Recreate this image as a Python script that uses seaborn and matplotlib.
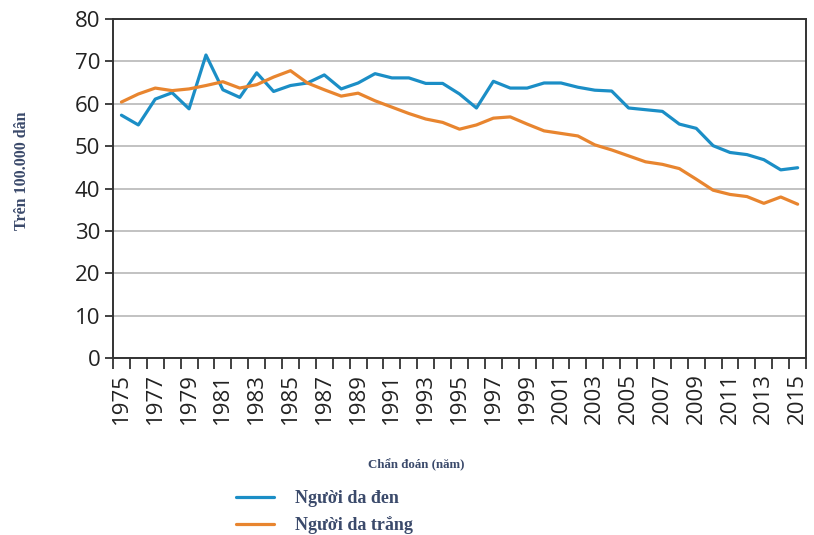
import matplotlib
matplotlib.use("Agg")
import matplotlib.pyplot as plt
import seaborn as sns
import numpy as np
import pandas as pd

years = list(range(1975, 2016))
black = [57.3, 55.0, 61.1, 62.6, 58.8, 71.5, 63.3, 61.5, 67.3, 62.9,
         64.3, 64.9, 66.8, 63.5, 64.9, 67.1, 66.1, 66.1, 64.8, 64.8,
         62.3, 59.0, 65.3, 63.7, 63.7, 64.9, 64.9, 63.9, 63.2, 63.0,
         59.0, 58.6, 58.2, 55.2, 54.2, 50.1, 48.5, 48.0, 46.8, 44.4, 44.9]
white = [60.4, 62.3, 63.7, 63.1, 63.5, 64.3, 65.2, 63.7, 64.5, 66.3,
         67.8, 64.9, 63.3, 61.8, 62.5, 60.7, 59.2, 57.7, 56.4, 55.6,
         54.0, 55.0, 56.6, 56.9, 55.2, 53.6, 53.0, 52.4, 50.3, 49.1,
         47.7, 46.3, 45.7, 44.7, 42.2, 39.6, 38.6, 38.1, 36.5, 38.0, 36.3]
series_names = ["Người da đen", "Người da trắng"]
colors = ["#1b8ec6", "#e8852f"]

df = pd.DataFrame({
    "year": years * 2,
    "value": black + white,
    "group": [series_names[0]] * len(years) + [series_names[1]] * len(years),
})

sns.set_theme(style="white")
plt.rcParams["font.family"] = ["Open Sans", "DejaVu Sans"]

fig = plt.figure(figsize=(8.14, 5.35), dpi=100)
ax = fig.add_axes([0.1388, 0.3308, 0.8515, 0.6337])

sns.lineplot(data=df, x="year", y="value", hue="group", palette=colors,
             linewidth=2.3, ax=ax, legend=False)

ax.set_xlim(1974.5, 2015.5)
ax.set_ylim(0, 80)
ax.set_yticks(np.arange(0, 81, 10))
ax.yaxis.grid(True, color="#bdbdbd", linewidth=1.3)
ax.set_axisbelow(True)

# boundaries get tick marks, odd years get labels
ax.set_xticks(np.arange(1974.5, 2016, 1.0))
ax.set_xticklabels([])
ax.set_xticks(years[::2], minor=True)
ax.set_xticklabels([str(y) for y in years[::2]], minor=True, rotation=90,
                   fontsize=16, color="#222222")
ax.tick_params(axis="x", which="major", direction="out", length=8, width=1.3,
               color="#333333", bottom=True)
ax.tick_params(axis="x", which="minor", length=0, pad=11)
ax.tick_params(axis="y", direction="out", length=6, width=1.3, color="#333333",
               labelsize=16, labelcolor="#222222", pad=3, left=True)

for s in ax.spines.values():
    s.set_color("#333333")
    s.set_linewidth(1.4)

ax.set_xlabel("")
ax.set_ylabel("")
lab = dict(family=["Liberation Serif", "DejaVu Serif"], fontweight="bold", color="#3b4a6b")
fig.text(0.027, 0.68, "Trên 100.000 dân", rotation=90, ha="center", va="center",
         fontsize=11.5, **lab)
fig.text(0.511, 0.131, "Chẩn đoán (năm)", ha="center", va="center", fontsize=9.3, **lab)

handles = [plt.Line2D([], [], color=c, linewidth=2.3) for c in colors]
leg = fig.legend(handles, series_names, loc="upper left", bbox_to_anchor=(0.270, 0.114),
                 frameon=False, handlelength=2.1, handletextpad=1.15, labelspacing=0.5,
                 prop=dict(family=["Liberation Serif", "DejaVu Serif"], weight="bold", size=13))
for t in leg.get_texts():
    t.set_color("#3b4a6b")

fig.savefig("out.png", dpi=100)
